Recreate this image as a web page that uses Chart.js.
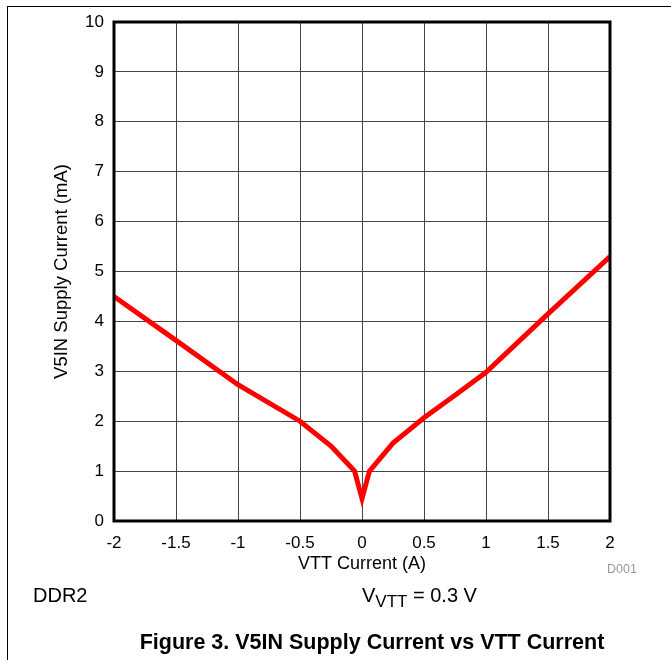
<!DOCTYPE html>
<html>
<head>
<meta charset="utf-8">
<script src="https://cdn.jsdelivr.net/npm/chart.js@4.4.1/dist/chart.umd.min.js"></script>
<style>
  body { margin: 0; background: #fff; font-family: "Liberation Sans", Arial, sans-serif; }
  #wrap { position: relative; width: 671px; height: 660px; overflow: hidden; }
  #chart { position: absolute; left: 0; top: 0; }
  .frameTop { position: absolute; left: 7px; top: 6px; width: 664px; height: 1px; background: #000; }
  .frameLeft { position: absolute; left: 7px; top: 6px; width: 1px; height: 654px; background: #000; }
  .txt { position: absolute; white-space: nowrap; color: #000; line-height: 1; }
  #ddr { left: 33px; top: 585px; font-size: 20px; }
  #vvtt { left: 362px; top: 585px; font-size: 20px; }
  #vvtt sub { font-size: 17px; vertical-align: -5px; line-height: 1; }
  #d001 { left: 607px; top: 563px; font-size: 12.5px; color: #999; }
  #caption { left: 0; width: 744px; text-align: center; top: 632px; font-size: 21.5px; font-weight: bold; }
</style>
</head>
<body>
<div id="wrap">
  <canvas id="chart" width="671" height="660"></canvas>
  <div class="frameTop"></div>
  <div class="frameLeft"></div>
  <div class="txt" id="d001">D001</div>
  <div class="txt" id="ddr">DDR2</div>
  <div class="txt" id="vvtt">V<sub>VTT</sub> = 0.3 V</div>
  <div class="txt" id="caption">Figure 3. V5IN Supply Current vs VTT Current</div>
</div>
<script>
// VTT current (A) vs V5IN supply current (mA)
const vttCurrent = [-2, -1.5, -1, -0.5, -0.25, -0.06, 0, 0.06, 0.25, 0.5, 0.75, 1, 1.5, 2];
const supplyCurrent = [4.5, 3.62, 2.73, 2.0, 1.5, 1.0, 0.45, 1.0, 1.56, 2.07, 2.52, 2.98, 4.15, 5.3];

const xTicks = [-2, -1.5, -1, -0.5, 0, 0.5, 1, 1.5, 2];
const xTickLabels = ['-2', '-1.5', '-1', '-0.5', '0', '0.5', '1', '1.5', '2'];
const yTicks = [0, 1, 2, 3, 4, 5, 6, 7, 8, 9, 10];
const yTickLabels = ['0', '1', '2', '3', '4', '5', '6', '7', '8', '9', '10'];

const fontFamily = '"Liberation Sans", Arial, sans-serif';

// thick black box round the plot area
const plotBorder = {
    id: 'plotBorder',
    afterDatasetsDraw(chart) {
        const a = chart.chartArea;
        const ctx = chart.ctx;
        ctx.save();
        ctx.strokeStyle = '#000';
        ctx.lineWidth = 3;
        ctx.strokeRect(a.left, a.top, a.right - a.left, a.bottom - a.top);
        ctx.restore();
    }
};

const ctx = document.getElementById('chart').getContext('2d');

new Chart(ctx, {
    type: 'line',
    data: {
        datasets: [{
            data: vttCurrent.map((x, i) => ({ x: x, y: supplyCurrent[i] })),
            borderColor: '#ff0000',
            borderWidth: 5,
            pointRadius: 0,
            tension: 0,
            fill: false
        }]
    },
    options: {
        responsive: false,
        animation: false,
        layout: { padding: { left: 0, top: 22, right: 61, bottom: 0 } },
        plugins: { legend: { display: false }, tooltip: { enabled: false } },
        scales: {
            x: {
                type: 'linear',
                min: -2,
                max: 2,
                afterFit: s => { s.height = 139; },
                afterBuildTicks: s => { s.ticks = xTicks.map(v => ({ value: v })); },
                ticks: {
                    padding: 12,
                    color: '#000',
                    font: { family: fontFamily, size: 17 },
                    maxRotation: 0,
                    callback: (v) => xTickLabels[xTicks.indexOf(v)]
                },
                grid: { color: '#444', lineWidth: 1, drawTicks: false },
                border: { display: false },
                title: {
                    display: true,
                    text: 'VTT Current (A)',
                    color: '#000',
                    font: { family: fontFamily, size: 18 },
                    padding: { bottom: 85 }
                }
            },
            y: {
                type: 'linear',
                min: 0,
                max: 10,
                afterFit: s => { s.width = 114; },
                afterBuildTicks: s => { s.ticks = yTicks.map(v => ({ value: v })); },
                ticks: {
                    padding: 10,
                    color: '#000',
                    font: { family: fontFamily, size: 17 },
                    callback: (v) => yTickLabels[yTicks.indexOf(v)]
                },
                grid: { color: '#444', lineWidth: 1, drawTicks: false },
                border: { display: false },
                title: {
                    display: true,
                    text: 'V5IN Supply Current (mA)',
                    color: '#000',
                    font: { family: fontFamily, size: 18.5 },
                    padding: { top: 51 }
                }
            }
        }
    },
    plugins: [plotBorder]
});
</script>
</body>
</html>
